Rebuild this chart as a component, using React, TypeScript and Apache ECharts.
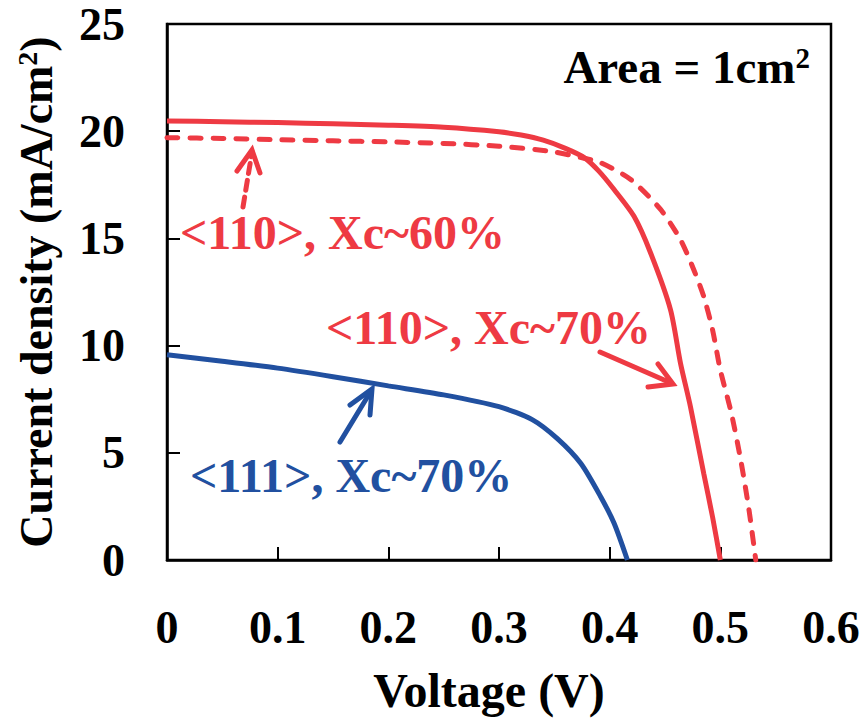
import React, { useEffect, useRef } from "react";
import * as echarts from "echarts";

// Voltage (V) / current density (mA/cm2)
const v110x70 = [0, 0.05, 0.1, 0.15, 0.2, 0.25, 0.3, 0.32, 0.34, 0.36, 0.377, 0.39, 0.404, 0.422, 0.437, 0.455, 0.464, 0.473, 0.485, 0.493, 0.5];
const j110x70 = [20.48, 20.44, 20.4, 20.35, 20.28, 20.18, 19.97, 19.82, 19.58, 19.2, 18.77, 18.15, 17.28, 16.03, 14.32, 11.67, 9.18, 7.15, 4.03, 2.0, 0];

const v110x60 = [0, 0.05, 0.1, 0.15, 0.2, 0.25, 0.3, 0.347, 0.376, 0.392, 0.419, 0.446, 0.464, 0.476, 0.485, 0.493, 0.5, 0.51, 0.519, 0.526, 0.532];
const j110x60 = [19.7, 19.66, 19.6, 19.55, 19.5, 19.43, 19.3, 19.06, 18.75, 18.53, 17.75, 16.35, 14.94, 13.54, 12.29, 10.73, 8.86, 6.84, 4.5, 2.3, 0];

const v111x70 = [0, 0.05, 0.1, 0.15, 0.2, 0.25, 0.3, 0.33, 0.353, 0.374, 0.392, 0.404, 0.416];
const j111x70 = [9.57, 9.27, 8.95, 8.55, 8.12, 7.7, 7.15, 6.55, 5.65, 4.5, 2.94, 1.71, 0];

const xTicks = [0, 0.1, 0.2, 0.3, 0.4, 0.5, 0.6];
const yTicks = [0, 5, 10, 15, 20, 25];

const labels = {
  a: "<110>, Xc~60%",
  b: "<110>, Xc~70%",
  c: "<111>, Xc~70%",
};

const RED = "#EE3A43";
const BLUE = "#2150A0";
const FONT = "'Liberation Serif', 'Times New Roman', serif";

const pairs = (xs: number[], ys: number[]) => xs.map((x, i) => [x, ys[i]]);

export default function App() {
  const ref = useRef<HTMLDivElement>(null);
  useEffect(() => {
    if (!ref.current) return;
    const chart = echarts.init(ref.current, null, { renderer: "svg" });
    const lblText = { fontFamily: FONT, fontWeight: "bold", fontSize: 48, fill: RED, verticalAlign: "middle" } as any;
    chart.setOption({
      animation: false,
      backgroundColor: "#fff",
      grid: { left: 167, top: 24, right: 32, bottom: 160, show: true, borderColor: "#000", borderWidth: 2.5, containLabel: false },
      xAxis: {
        type: "value",
        min: xTicks[0],
        max: xTicks[xTicks.length - 1],
        interval: 0.1,
        name: "Voltage (V)",
        nameLocation: "middle",
        nameGap: 106,
        nameTextStyle: { fontFamily: FONT, fontWeight: "bold", fontSize: 48, color: "#000", padding: [0, 20, 0, 0] },
        axisLine: { show: true, lineStyle: { color: "#000", width: 2.5 } },
        axisTick: { show: true, inside: true, length: 13, lineStyle: { color: "#000", width: 2 } },
        axisLabel: { margin: 44, fontFamily: FONT, fontWeight: "bold", fontSize: 46, color: "#000", formatter: (v: number) => (v === 0 ? "0" : v.toFixed(1)) },
        splitLine: { show: false },
      },
      yAxis: {
        type: "value",
        min: yTicks[0],
        max: yTicks[yTicks.length - 1],
        interval: 5,
        name: "Current density (mA/cm{sup|2})",
        nameLocation: "middle",
        nameGap: 108,
        nameTextStyle: {
          fontFamily: FONT, fontWeight: "bold", fontSize: 46, color: "#000",
          rich: { sup: { fontFamily: FONT, fontWeight: "bold", fontSize: 28, verticalAlign: "top", color: "#000" } },
        },
        axisLine: { show: true, lineStyle: { color: "#000", width: 2.5 } },
        axisTick: { show: true, inside: true, length: 13, lineStyle: { color: "#000", width: 2 } },
        axisLabel: { margin: 42, fontFamily: FONT, fontWeight: "bold", fontSize: 46, color: "#000" },
        splitLine: { show: false },
      },
      series: [
        {
          name: labels.b, type: "line", data: pairs(v110x70, j110x70), showSymbol: false, smooth: 0.25,
          lineStyle: { color: RED, width: 5 }, itemStyle: { color: RED },
        },
        {
          name: labels.a, type: "line", data: pairs(v110x60, j110x60), showSymbol: false, smooth: 0.25,
          lineStyle: { color: RED, width: 5, type: [11, 12], cap: "round" }, itemStyle: { color: RED },
        },
        {
          name: labels.c, type: "line", data: pairs(v111x70, j111x70), showSymbol: false, smooth: 0.25,
          lineStyle: { color: BLUE, width: 5 }, itemStyle: { color: BLUE },
        },
      ],
      graphic: [
        {
          type: "text", x: 810, y: 67,
          style: {
            text: "Area = 1cm{sup|2}", fontFamily: FONT, fontWeight: "bold", fontSize: 47, fill: "#000", align: "right", verticalAlign: "middle",
            rich: { sup: { fontFamily: FONT, fontWeight: "bold", fontSize: 29, verticalAlign: "top", fill: "#000" } },
          },
        },
        { type: "text", x: 180, y: 232, style: { ...lblText, text: labels.a } },
        { type: "text", x: 326, y: 327, style: { ...lblText, text: labels.b } },
        { type: "text", x: 190, y: 475, style: { ...lblText, text: labels.c, fill: BLUE } },
        // arrows
        { type: "line", shape: { x1: 243, y1: 207, x2: 252, y2: 152 }, style: { stroke: RED, lineWidth: 5, lineDash: [10, 7], lineCap: "round" } },
        { type: "polyline", shape: { points: [[237, 171], [252, 150], [260, 173]] }, style: { stroke: RED, lineWidth: 5, fill: null, lineCap: "round", lineJoin: "miter" } },
        { type: "line", shape: { x1: 600, y1: 352, x2: 671, y2: 383 }, style: { stroke: RED, lineWidth: 5, lineCap: "round" } },
        { type: "polyline", shape: { points: [[658, 364], [673, 384], [648, 387]] }, style: { stroke: RED, lineWidth: 5, fill: null, lineCap: "round", lineJoin: "miter" } },
        { type: "line", shape: { x1: 340, y1: 442, x2: 371, y2: 391 }, style: { stroke: BLUE, lineWidth: 5, lineCap: "round" } },
        { type: "polyline", shape: { points: [[350, 405], [372, 389], [370, 415]] }, style: { stroke: BLUE, lineWidth: 5, fill: null, lineCap: "round", lineJoin: "miter" } },
      ],
    });
    return () => chart.dispose();
  }, []);
  return <div ref={ref} style={{ position: "fixed", left: 0, top: 0, width: 863, height: 720 }} />;
}
